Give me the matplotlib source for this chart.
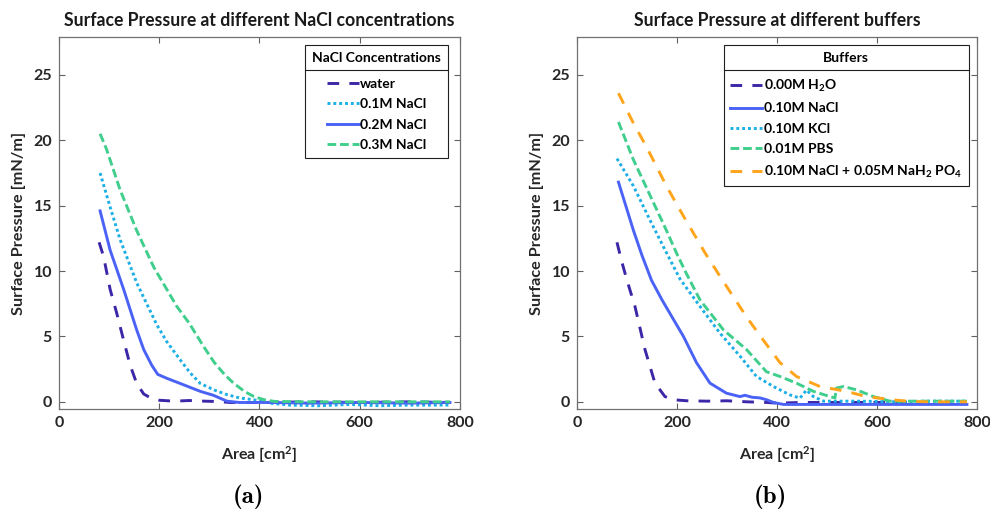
import matplotlib
matplotlib.use("Agg")
import matplotlib.pyplot as plt
from matplotlib.lines import Line2D

# =========================
# Panel (a): NaCl concentrations
# =========================
a_water_x = [80, 89, 102, 115, 129, 142, 155, 169, 185, 200, 230, 260, 290, 320, 340, 400, 500, 600, 700, 780]
a_water_y = [12.2, 11.1, 8.6, 6.8, 4.7, 2.8, 1.4, 0.6, 0.25, 0.12, 0.05, 0.1, 0.05, 0.02, -0.05, -0.05, 0.0, -0.05, 0.0, -0.05]

a_nacl01_x = [82, 102, 122, 155, 175, 195, 215, 242, 262, 282, 310, 335, 360, 389, 420, 460, 520, 580, 640, 700, 780]
a_nacl01_y = [17.5, 14.9, 12.4, 9.1, 7.5, 5.9, 4.6, 3.2, 2.2, 1.4, 0.9, 0.55, 0.3, 0.15, -0.1, -0.25, -0.3, -0.2, -0.3, -0.25, -0.25]

a_nacl02_x = [82, 102, 129, 155, 169, 185, 197, 215, 242, 282, 308, 335, 360, 420, 500, 600, 700, 780]
a_nacl02_y = [14.6, 11.6, 8.6, 5.5, 4.0, 2.8, 2.1, 1.8, 1.4, 0.8, 0.5, 0.05, -0.05, -0.05, -0.1, -0.05, -0.1, -0.05]

a_nacl03_x = [82, 95, 122, 155, 189, 235, 260, 289, 310, 330, 349, 370, 389, 410, 430, 500, 600, 700, 780]
a_nacl03_y = [20.5, 19.3, 16.2, 13.1, 10.3, 7.3, 6.0, 4.2, 3.0, 2.1, 1.4, 0.8, 0.4, 0.15, 0.03, 0.0, 0.0, 0.0, 0.0]

# =========================
# Panel (b): buffers
# =========================
b_h2o_x = [80, 89, 100, 116, 136, 156, 176, 195, 220, 260, 300, 340, 380, 400, 450, 500, 600, 700, 780]
b_h2o_y = [12.2, 10.8, 9.3, 7.3, 4.0, 1.43, 0.4, 0.15, 0.08, 0.05, 0.08, 0.0, -0.05, -0.1, -0.05, -0.05, -0.05, -0.05, -0.05]

b_nacl_x = [83, 113, 130, 149, 170, 193, 213, 239, 266, 299, 326, 336, 350, 366, 380, 393, 413, 500, 600, 700, 780]
b_nacl_y = [16.8, 13.1, 11.2, 9.3, 7.8, 6.3, 5.0, 3.0, 1.43, 0.66, 0.4, 0.5, 0.35, 0.3, 0.15, -0.05, -0.2, -0.2, -0.2, -0.2, -0.2]

b_kcl_x = [80, 113, 146, 179, 206, 246, 286, 326, 359, 393, 426, 446, 459, 473, 493, 560, 640, 700, 780]
b_kcl_y = [18.6, 16.5, 13.9, 11.4, 9.4, 7.3, 5.25, 3.5, 1.94, 1.17, 0.53, 0.28, 0.9, 0.4, 0.05, 0.05, 0.0, 0.05, 0.05]

b_pbs_x = [83, 113, 146, 179, 200, 219, 246, 293, 339, 379, 406, 439, 473, 506, 516, 519, 533, 559, 593, 626, 700, 780]
b_pbs_y = [21.4, 18.5, 15.8, 13.1, 11.3, 9.8, 7.8, 5.5, 4.0, 2.3, 1.94, 1.43, 0.8, 0.4, 0.3, 1.05, 1.17, 0.92, 0.4, 0.05, 0.05, 0.05]

b_phos_x = [83, 113, 139, 179, 213, 256, 286, 339, 373, 406, 439, 486, 539, 579, 633, 660, 700, 780]
b_phos_y = [23.6, 21.3, 19.5, 16.5, 14.2, 11.4, 9.6, 6.5, 4.7, 3.0, 1.94, 1.17, 0.8, 0.4, 0.15, 0.05, 0.0, 0.0]

PURPLE = "#3E26A8"
BLUE = "#4A62F5"
CYAN = "#1CAFE5"
GREEN = "#40CE8C"
ORANGE = "#FFA41B"

FONT = "Lato"

plt.rcParams["font.family"] = [FONT, "DejaVu Sans"]
plt.rcParams["font.weight"] = "bold"
plt.rcParams["mathtext.fontset"] = "custom"
plt.rcParams["mathtext.rm"] = "Lato:bold"
plt.rcParams["mathtext.bf"] = "Lato:bold"
plt.rcParams["mathtext.it"] = "Lato:bold"


def style_axes(ax, title):
    ax.set_xlim(0, 800)
    ax.set_ylim(-0.55, 27.9)
    ax.set_xticks([0, 200, 400, 600, 800])
    ax.set_yticks([0, 5, 10, 15, 20, 25])
    ax.tick_params(direction="in", top=True, right=True, length=4, pad=5,
                   labelsize=11.5, colors="#606060", labelcolor="#262626", width=0.8)
    for s in ax.spines.values():
        s.set_color("#707070")
        s.set_linewidth(0.9)
    ax.set_title(title, fontsize=12.7, fontweight="bold", color="#1a1a1a", pad=8)
    ax.set_xlabel(r"Area [cm$^\mathrm{2}$]", fontsize=11.5, fontweight="bold",
                  color="#262626", labelpad=10)
    ax.set_ylabel("Surface Pressure [mN/m]", fontsize=11.7, fontweight="bold",
                  color="#262626", labelpad=5)


def add_legend(ax, title, anchor):
    leg = ax.legend(loc="upper right", bbox_to_anchor=anchor, borderaxespad=0,
                    title=title, fancybox=False, framealpha=1, edgecolor="#202020",
                    prop={"family": FONT, "weight": "bold", "size": 10},
                    title_fontproperties={"family": FONT, "weight": "bold", "size": 10},
                    handlelength=2.3, handletextpad=0.1, labelspacing=0.6,
                    borderpad=0.5)
    leg.get_frame().set_linewidth(0.8)
    # a little more room between the title row and the entries
    leg._legend_box.sep = 10
    return leg


def add_separator(fig, leg):
    renderer = fig.canvas.get_renderer()
    frame = leg.get_frame().get_window_extent(renderer)
    tbox = leg.get_title().get_window_extent(renderer)
    y = (tbox.y0 - 6) / fig.bbox.height
    x0 = frame.x0 / fig.bbox.width
    x1 = frame.x1 / fig.bbox.width
    fig.add_artist(Line2D([x0, x1], [y, y], transform=fig.transFigure,
                          color="#202020", linewidth=0.8))


def main():
    fig = plt.figure(figsize=(9.9, 5.13), dpi=100)
    ax1 = fig.add_axes([0.0596, 0.2027, 0.405, 0.7252])
    ax2 = fig.add_axes([0.5828, 0.2027, 0.404, 0.7252])

    lw = 2.1

    ax1.plot(a_water_x, a_water_y, color=PURPLE, lw=lw, dashes=(4, 3.5), label="water")
    ax1.plot(a_nacl01_x, a_nacl01_y, color=CYAN, lw=lw, dashes=(1, 1), label="0.1M NaCl")
    ax1.plot(a_nacl02_x, a_nacl02_y, color=BLUE, lw=lw, label="0.2M NaCl")
    ax1.plot(a_nacl03_x, a_nacl03_y, color=GREEN, lw=lw, dashes=(3, 1.3), label="0.3M NaCl")
    style_axes(ax1, "Surface Pressure at different NaCl concentrations")
    leg1 = add_legend(ax1, "NaCl Concentrations", (0.970, 0.978))

    ax2.plot(b_h2o_x, b_h2o_y, color=PURPLE, lw=lw, dashes=(4, 3.5), label=r"0.00M H$_\mathrm{2}$O")
    ax2.plot(b_nacl_x, b_nacl_y, color=BLUE, lw=lw, label="0.10M NaCl")
    ax2.plot(b_kcl_x, b_kcl_y, color=CYAN, lw=lw, dashes=(1, 1), label="0.10M KCl")
    ax2.plot(b_pbs_x, b_pbs_y, color=GREEN, lw=lw, dashes=(3, 1.3), label="0.01M PBS")
    ax2.plot(b_phos_x, b_phos_y, color=ORANGE, lw=lw, dashes=(4, 3.5),
             label=r"0.10M NaCl + 0.05M NaH$_\mathrm{2}$ PO$_\mathrm{4}$")
    style_axes(ax2, "Surface Pressure at different buffers")
    leg2 = add_legend(ax2, "Buffers", (0.98, 0.978))

    fig.canvas.draw()
    add_separator(fig, leg1)
    add_separator(fig, leg2)

    fig.text(0.2505, 0.031, "(a)", fontfamily="cmb10", fontsize=18, ha="center", va="center")
    fig.text(0.7778, 0.031, "(b)", fontfamily="cmb10", fontsize=18, ha="center", va="center")

    fig.savefig("out.png", dpi=100)
    plt.close(fig)


if __name__ == "__main__":
    main()
